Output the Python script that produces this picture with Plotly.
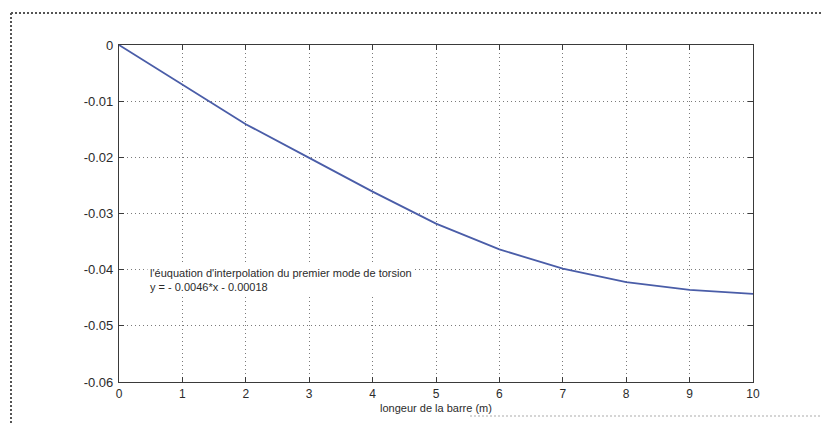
import plotly.graph_objects as go

# Torsion mode shape along the bar
longueur = [0, 1, 2, 3, 4, 5, 6, 7, 8, 9, 10]
deformee = [0.0, -0.0071, -0.0141, -0.0201, -0.0261, -0.0318, -0.0364,
            -0.0398, -0.0422, -0.0436, -0.0443]

x_ticks = [0, 1, 2, 3, 4, 5, 6, 7, 8, 9, 10]
y_ticks = [0, -0.01, -0.02, -0.03, -0.04, -0.05, -0.06]
y_labels = ["0", "-0.01", "-0.02", "-0.03", "-0.04", "-0.05", "-0.06"]

note_lines = ["l'éuquation d'interpolation du premier mode de torsion",
              "y = - 0.0046*x - 0.00018"]

W, H = 821, 424
L, R, T, B = 119, 68, 45, 42
pw, ph = W - L - R, H - T - B


def px(xp):
    return (xp - L) / pw


def py(yp):
    return (H - B - yp) / ph


font = "Liberation Sans, Arial, sans-serif"
ink = "#2b2b2b"

fig = go.Figure()
fig.add_trace(go.Scatter(
    x=longueur, y=deformee, mode="lines",
    line=dict(color="#4a5da8", width=1.8),
    showlegend=False, hoverinfo="skip",
))

axis_common = dict(
    showline=True, linecolor="#3a3a3a", linewidth=1.2, mirror="allticks",
    ticks="inside", ticklen=5, tickcolor="#3a3a3a", tickwidth=1.2,
    showgrid=True, gridcolor="#7a7a7a", gridwidth=1, griddash="1px,3px",
    zeroline=False,
)

fig.update_xaxes(range=[0, 10], tickvals=x_ticks,
                 tickfont=dict(family=font, size=12, color=ink),
                 title=dict(text="longeur de la barre (m)", standoff=4,
                            font=dict(family=font, size=11, color=ink)),
                 **axis_common)
fig.update_yaxes(range=[-0.06, 0], tickvals=y_ticks, ticktext=y_labels,
                 tickfont=dict(family=font, size=13, color=ink),
                 ticklabelstandoff=2, **axis_common)

fig.add_annotation(
    x=0.44, y=-0.0419, xref="x", yref="y", xanchor="left", yanchor="middle",
    text="<br>".join(note_lines), align="left", showarrow=False,
    font=dict(family=font, size=11, color=ink), bgcolor="white",
    borderpad=2,
)

# dotted frame around the figure
frame = dict(xref="paper", yref="paper", type="line")
fig.add_shape(**frame, x0=px(11), x1=px(821), y0=py(13), y1=py(13),
              line=dict(color="#555555", width=2, dash="2px,2px"))
fig.add_shape(**frame, x0=px(11), x1=px(11), y0=py(13), y1=py(424),
              line=dict(color="#555555", width=2, dash="2px,2px"))
fig.add_shape(**frame, x0=px(470), x1=px(821), y0=py(416), y1=py(416),
              line=dict(color="#c8c8c8", width=1.5, dash="2px,2px"))

fig.update_layout(
    width=W, height=H,
    margin=dict(l=L, r=R, t=T, b=B),
    paper_bgcolor="white", plot_bgcolor="white",
    font=dict(family=font),
)

fig.write_html("out.html")
